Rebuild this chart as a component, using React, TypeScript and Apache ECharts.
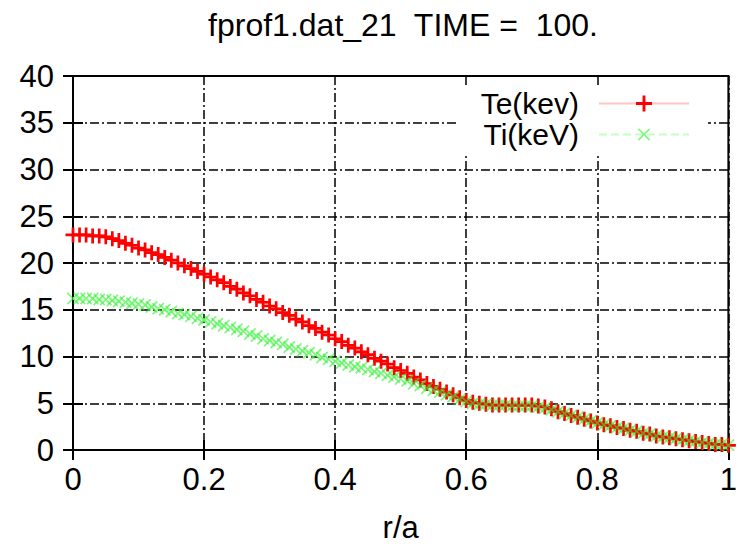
import React, { useEffect, useRef } from "react";
import * as echarts from "echarts";

const TITLE = "fprof1.dat_21  TIME =  100.";
const X_NAME = "r/a";
const SERIES_NAMES = ["Te(kev)", "Ti(keV)"];
const R_STEP = 0.01;

// Te (keV) read at r/a = 0.00, 0.01, ... 1.00
const TE = [
  23.0, 23.0, 23.0, 22.9, 22.9, 22.8, 22.6, 22.4, 22.1, 21.9,
  21.6, 21.4, 21.1, 20.9, 20.6, 20.3, 20.0, 19.7, 19.4, 19.1,
  18.8, 18.5, 18.2, 17.9, 17.5, 17.2, 16.8, 16.5, 16.1, 15.8,
  15.4, 15.1, 14.7, 14.4, 14.0, 13.7, 13.3, 13.0, 12.6, 12.3,
  11.9, 11.6, 11.2, 10.9, 10.5, 10.2, 9.8, 9.5, 9.2, 8.8,
  8.5, 8.2, 7.8, 7.5, 7.1, 6.8, 6.5, 6.2, 5.9, 5.6,
  5.3, 5.1, 5.0, 4.9, 4.8, 4.8, 4.8, 4.8, 4.8, 4.8,
  4.8, 4.7, 4.6, 4.4, 4.1, 3.9, 3.7, 3.5, 3.3, 3.1,
  2.9, 2.7, 2.6, 2.4, 2.3, 2.1, 2.0, 1.8, 1.7, 1.5,
  1.4, 1.3, 1.2, 1.1, 1.0, 0.9, 0.8, 0.7, 0.6, 0.6,
  0.5,
];

// Ti (keV) read at r/a = 0.00, 0.01, ... 1.00
const TI = [
  16.2, 16.2, 16.2, 16.2, 16.1, 16.1, 16.0, 15.9, 15.8, 15.7,
  15.6, 15.5, 15.3, 15.1, 15.0, 14.8, 14.6, 14.5, 14.3, 14.1,
  13.9, 13.7, 13.5, 13.3, 13.1, 12.9, 12.7, 12.4, 12.2, 11.9,
  11.7, 11.5, 11.3, 11.0, 10.8, 10.6, 10.4, 10.2, 9.9, 9.7,
  9.5, 9.3, 9.1, 8.9, 8.8, 8.6, 8.4, 8.2, 8.0, 7.8,
  7.6, 7.4, 7.1, 6.9, 6.6, 6.4, 6.2, 5.9, 5.7, 5.4,
  5.2, 5.0, 4.9, 4.9, 4.8, 4.8, 4.8, 4.7, 4.7, 4.7,
  4.7, 4.6, 4.5, 4.3, 4.1, 3.9, 3.7, 3.5, 3.3, 3.1,
  2.9, 2.7, 2.6, 2.4, 2.3, 2.1, 2.0, 1.8, 1.7, 1.5,
  1.4, 1.3, 1.2, 1.1, 1.0, 0.9, 0.8, 0.7, 0.6, 0.6,
  0.5,
];

const X_MIN = 0, X_MAX = 1, X_INTERVAL = 0.2;
const Y_MIN = 0, Y_MAX = 40, Y_INTERVAL = 5;

const FONT = "'Liberation Sans', Arial, sans-serif";
const PLUS = "path://M4.1,0H5.9V4.1H10V5.9H5.9V10H4.1V5.9H0V4.1H4.1Z";
const CROSS = "path://M4.45,0H5.55V4.45H10V5.55H5.55V10H4.45V5.55H0V4.45H4.45Z";

export default function App() {
  const ref = useRef<HTMLDivElement>(null);
  useEffect(() => {
    if (!ref.current) return;
    const chart = echarts.init(ref.current, null, { renderer: "svg" });
    const tick = { inside: true, length: 10, lineStyle: { color: "#000", width: 2 } };
    const grid = { color: "#000", width: 1.5, type: [9, 3, 2, 3] };
    const fmt = (v: number) => String(+v.toFixed(1));
    chart.setOption({
      animation: false,
      backgroundColor: "#fff",
      textStyle: { fontFamily: FONT },
      title: {
        text: TITLE,
        left: 398,
        textAlign: "center",
        top: 4,
        textStyle: { fontSize: 32, fontWeight: "normal", color: "#000", fontFamily: FONT },
      },
      legend: {
        data: SERIES_NAMES,
        orient: "vertical",
        right: 32,
        top: 85,
        align: "right",
        itemWidth: 90,
        itemHeight: 20,
        itemGap: 0,
        padding: [3, 18, 3, 22],
        backgroundColor: "#fff",
        textStyle: { fontSize: 30, color: "#000", lineHeight: 31, padding: [0, 15, 0, 0], fontFamily: FONT },
      },
      grid: { left: 73, right: 8, top: 76, bottom: 95, show: true, borderColor: "#000", borderWidth: 2 },
      xAxis: [
        {
          type: "value", min: X_MIN, max: X_MAX, interval: X_INTERVAL, position: "bottom",
          name: X_NAME, nameLocation: "middle", nameGap: 62,
          nameTextStyle: { fontSize: 31, color: "#000", fontFamily: FONT },
          axisLine: { show: false }, axisTick: tick,
          axisLabel: { margin: 14, fontSize: 31, color: "#000", formatter: fmt, fontFamily: FONT },
          splitLine: { show: true, lineStyle: grid },
        },
        {
          type: "value", min: X_MIN, max: X_MAX, interval: X_INTERVAL, position: "top",
          axisLine: { show: false }, axisTick: tick, axisLabel: { show: false }, splitLine: { show: false },
        },
      ],
      yAxis: [
        {
          type: "value", min: Y_MIN, max: Y_MAX, interval: Y_INTERVAL, position: "left",
          axisLine: { show: false }, axisTick: tick,
          axisLabel: { margin: 19, fontSize: 31, color: "#000", fontFamily: FONT, padding: [0, 0, 5, 0] },
          splitLine: { show: true, lineStyle: grid },
        },
        {
          type: "value", min: Y_MIN, max: Y_MAX, interval: Y_INTERVAL, position: "right",
          axisLine: { show: false }, axisTick: tick, axisLabel: { show: false }, splitLine: { show: false },
        },
      ],
      series: [
        {
          name: SERIES_NAMES[0], type: "line", clip: false,
          data: TE.map((v, i) => [i * R_STEP, v]),
          symbol: PLUS, symbolSize: 15,
          itemStyle: { color: "#ff0000" },
          lineStyle: { color: "#ffc4c4", width: 4 },
        },
        {
          name: SERIES_NAMES[1], type: "line", clip: false,
          data: TI.map((v, i) => [i * R_STEP, v]),
          symbol: CROSS, symbolSize: 16, symbolRotate: 45,
          itemStyle: { color: "#33ee33", opacity: 0.6 },
          lineStyle: { color: "#c4ffc4", width: 3, type: "dashed" },
        },
      ],
    });
    return () => chart.dispose();
  }, []);
  return <div ref={ref} style={{ position: "absolute", left: 0, top: 0, width: 740, height: 548 }} />;
}
